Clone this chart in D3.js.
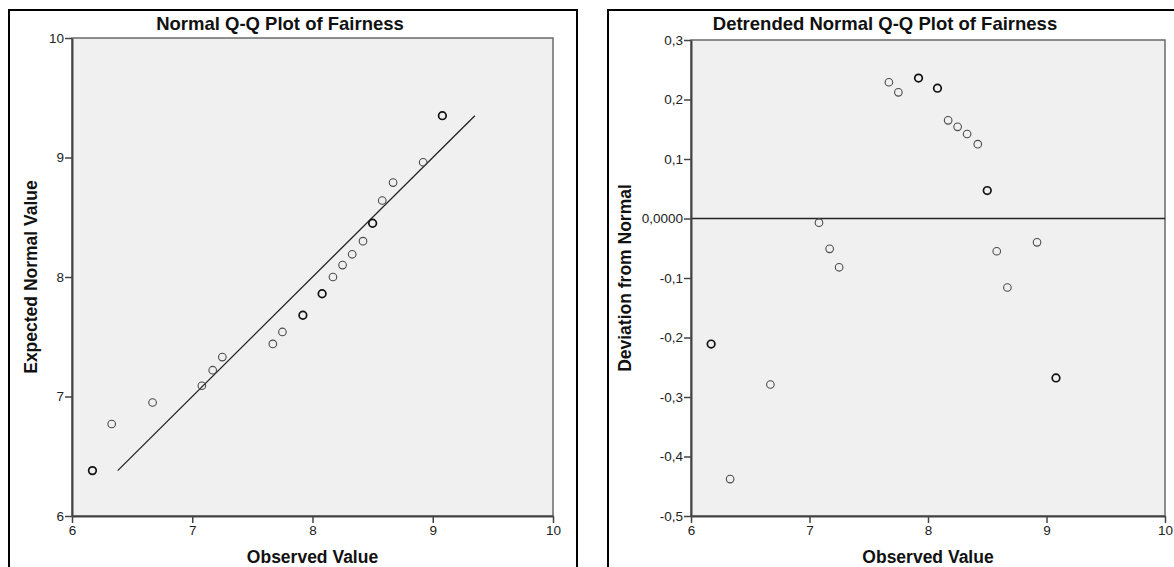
<!DOCTYPE html>
<html>
<head>
<meta charset="utf-8">
<script src="https://cdn.jsdelivr.net/npm/d3@7"></script>
<style>
    body { margin: 0; background: #ffffff; }
    svg { display: block; }
    text { font-family: "Liberation Sans", Arial, sans-serif; }
</style>
</head>
<body>
<div id="chart"></div>
<script>
(function () {
    'use strict';

    // observed means (twelfths)
    var observed = [6.17, 6.33, 6.67, 7.08, 7.17, 7.25, 7.67, 7.75, 7.92, 8.08,
                    8.17, 8.25, 8.33, 8.42, 8.50, 8.58, 8.67, 8.92, 9.08];
    var expected = [6.38, 6.77, 6.95, 7.09, 7.22, 7.33, 7.44, 7.54, 7.68, 7.86,
                    8.00, 8.10, 8.19, 8.30, 8.45, 8.64, 8.79, 8.96, 9.35];
    var deviation = [-0.211, -0.438, -0.279, -0.007, -0.051, -0.082, 0.229, 0.212, 0.236, 0.219,
                     0.165, 0.154, 0.142, 0.125, 0.047, -0.055, -0.116, -0.040, -0.268];
    // points drawn heavier in the original (tied cases)
    var tied = [1, 0, 0, 0, 0, 0, 0, 0, 1, 1, 0, 0, 0, 0, 1, 0, 0, 0, 1];

    var xTicks = [6, 7, 8, 9, 10];
    var qqTicks = [6, 7, 8, 9, 10];
    var devTicks = [0.3, 0.2, 0.1, 0, -0.1, -0.2, -0.3, -0.4, -0.5];

    var WIDTH = 1174;
    var HEIGHT = 567;

    var svg = d3.select("#chart")
        .append("svg")
        .attr("width", WIDTH)
        .attr("height", HEIGHT);

    var left = {frame: [9, 10, 568], plot: {x0: 72, x1: 553, y0: 38, y1: 516},
        title: "Normal Q-Q Plot of Fairness", titleX: 280, yTitle: "Expected Normal Value", yTitleX: 31};
    var right = {frame: [608, 10, 600], plot: {x0: 691, x1: 1165, y0: 40, y1: 516},
        title: "Detrended Normal Q-Q Plot of Fairness", titleX: 885, yTitle: "Deviation from Normal", yTitleX: 625};

    buildQQ();
    buildDetrended();

    function panel(cfg) {
        var g = svg.append("g");
        g.append("rect")
            .attr("x", cfg.frame[0])
            .attr("y", cfg.frame[1])
            .attr("width", cfg.frame[2])
            .attr("height", 600)
            .attr("fill", "#ffffff")
            .attr("stroke", "#000000")
            .attr("stroke-width", 2);

        g.append("rect")
            .attr("x", cfg.plot.x0)
            .attr("y", cfg.plot.y0)
            .attr("width", cfg.plot.x1 - cfg.plot.x0)
            .attr("height", cfg.plot.y1 - cfg.plot.y0)
            .attr("fill", "#f0f0f0")
            .attr("stroke", "#6a6a6a")
            .attr("stroke-width", 1.5);

        g.append("text")
            .attr("x", cfg.titleX)
            .attr("y", 30)
            .attr("text-anchor", "middle")
            .attr("font-size", 18.5)
            .attr("font-weight", "bold")
            .attr("fill", "#111")
            .text(cfg.title);

        g.append("text")
            .attr("x", (cfg.plot.x0 + cfg.plot.x1) / 2)
            .attr("y", 563)
            .attr("text-anchor", "middle")
            .attr("font-size", 17.5)
            .attr("font-weight", "bold")
            .attr("fill", "#111")
            .text("Observed Value");

        g.append("text")
            .attr("transform", "translate(" + cfg.yTitleX + "," + (cfg.plot.y0 + cfg.plot.y1) / 2 + ") rotate(-90)")
            .attr("text-anchor", "middle")
            .attr("dy", "0.35em")
            .attr("font-size", 17.5)
            .attr("font-weight", "bold")
            .attr("fill", "#111")
            .text(cfg.yTitle);
        return g;
    }

    function styleAxis(sel) {
        sel.selectAll(".domain").attr("stroke", "#444").attr("stroke-width", 2);
        sel.selectAll(".tick line").attr("stroke", "#444").attr("stroke-width", 1.5);
        sel.selectAll(".tick text")
            .attr("font-family", "'Liberation Sans', Arial, sans-serif")
            .attr("font-size", 13.5)
            .attr("fill", "#222");
    }

    function drawAxes(g, cfg, x, y, yFormat, yTicks) {
        g.append("g")
            .attr("transform", "translate(0," + cfg.plot.y1 + ")")
            .call(d3.axisBottom(x).tickValues(xTicks).tickSize(7).tickSizeOuter(0).tickPadding(2).tickFormat(d3.format("d")))
            .call(styleAxis);
        g.append("g")
            .attr("transform", "translate(" + cfg.plot.x0 + ",0)")
            .call(d3.axisLeft(y).tickValues(yTicks).tickSize(7).tickSizeOuter(0).tickPadding(1).tickFormat(yFormat))
            .call(styleAxis);
    }

    function drawPoints(g, x, y, ys) {
        g.append("g")
            .selectAll("circle")
            .data(observed)
            .enter()
            .append("circle")
            .attr("cx", function (d) { return x(d); })
            .attr("cy", function (d, i) { return y(ys[i]); })
            .attr("r", 3.8)
            .attr("fill", "none")
            .attr("stroke", function (d, i) { return tied[i] ? "#111" : "#4a4a4a"; })
            .attr("stroke-width", function (d, i) { return tied[i] ? 1.7 : 1.1; });
    }

    function buildQQ() {
        var g = panel(left);
        var x = d3.scaleLinear().domain([6, 10]).range([left.plot.x0, left.plot.x1]);
        var y = d3.scaleLinear().domain([6, 10]).range([left.plot.y1, left.plot.y0]);
        var lo = d3.min(expected);
        var hi = d3.max(expected);
        g.append("line")
            .attr("x1", x(lo)).attr("y1", y(lo))
            .attr("x2", x(hi)).attr("y2", y(hi))
            .attr("stroke", "#222")
            .attr("stroke-width", 1.3);
        drawAxes(g, left, x, y, d3.format("d"), qqTicks);
        drawPoints(g, x, y, expected);
    }

    function buildDetrended() {
        var g = panel(right);
        var x = d3.scaleLinear().domain([6, 10]).range([right.plot.x0, right.plot.x1]);
        var y = d3.scaleLinear().domain([-0.5, 0.3]).range([right.plot.y1, right.plot.y0]);
        g.append("line")
            .attr("x1", right.plot.x0).attr("y1", y(0))
            .attr("x2", right.plot.x1).attr("y2", y(0))
            .attr("stroke", "#222")
            .attr("stroke-width", 1.3);
        var fmt = function (d) {
            if (d === 0) { return "0,0000"; }
            return d3.format(".1f")(d).replace("\u2212", "-").replace(".", ",");
        };
        drawAxes(g, right, x, y, fmt, devTicks);
        drawPoints(g, x, y, deviation);
    }
})();
</script>
</body>
</html>
